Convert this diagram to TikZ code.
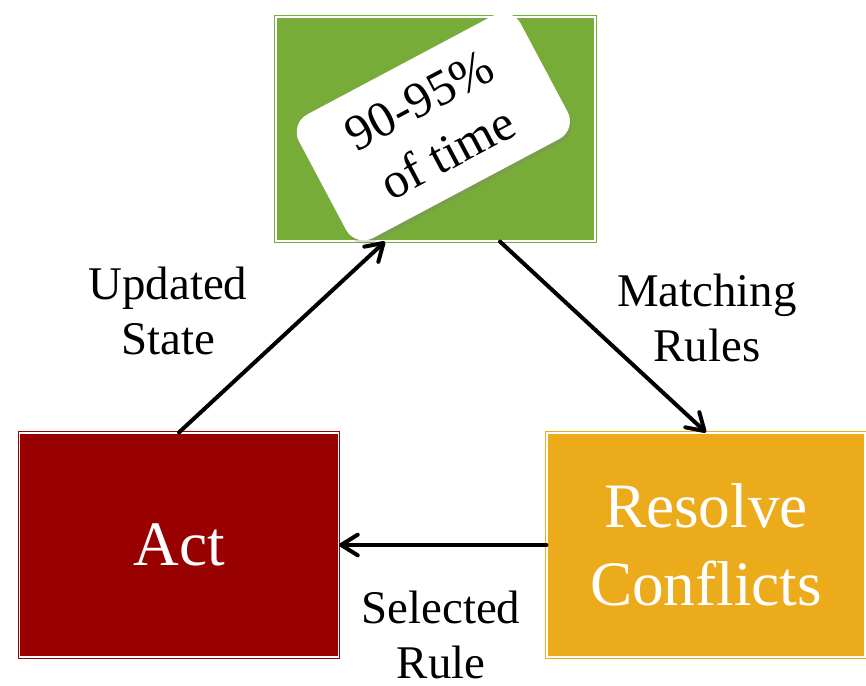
\documentclass[tikz,border=0pt]{standalone}
\usepackage{fontspec}
\setmainfont{Liberation Serif}
\usetikzlibrary{shapes.misc, shadows, arrows.meta}
\definecolor{matchgreen}{RGB}{120,172,56}
\definecolor{actred}{RGB}{153,0,0}
\definecolor{resolvegold}{RGB}{236,171,27}
\tikzset{
	phase/.style={
		rectangle, draw=#1, fill=#1, double=white,
		line width=1pt, double distance=1.4pt,
		minimum width=9.57cm, minimum height=6.72cm,
		text=white, align=center,
		font=\fontsize{54}{66}\selectfont
	},
	flow/.style={
		-{Straight Barb[round, length=0.5cm, width=0.62cm]},
		line width=0.12cm, line cap=round
	},
	flowlabel/.style={
		align=center, font=\fontsize{40}{47}\selectfont
	}
}
\begin{document}
\begin{tikzpicture}
	\useasboundingbox (0,0) rectangle (25.98,20.55);
	\node[phase=matchgreen] (match) at (13.065,16.68) {};
	\node[phase=actred] (act) at (5.37,4.2) {Act};
	\node[phase=resolvegold, minimum width=9.54cm] (resolve) at (21.18,4.2) {Resolve\\Conflicts};
	\node[
	rectangle, rounded corners=0.6cm,
	fill=white, rotate=28,
	minimum width=7.53cm, minimum height=4.2cm,
	align=center, font=\fontsize{43}{51}\selectfont,
	drop shadow={opacity=0.3, shadow xshift=0.05cm, shadow yshift=-0.1cm}
	] (share) at (13.0,16.75) {90-95\%\\of time};
	\draw[flow] (act.north) -- ([xshift=-1.515cm]match.south);
	\draw[flow] ([xshift=1.935cm]match.south) -- (resolve.north);
	\draw[flow] (resolve.west) -- (act.east);
	\node[flowlabel] (updated) at (5.04,11.22) {Updated\\State};
	\node[flowlabel] (matching) at (21.21,11.01) {Matching\\Rules};
	\node[flowlabel] (selected) at (13.23,1.5) {Selected\\Rule};
\end{tikzpicture}
\end{document}
